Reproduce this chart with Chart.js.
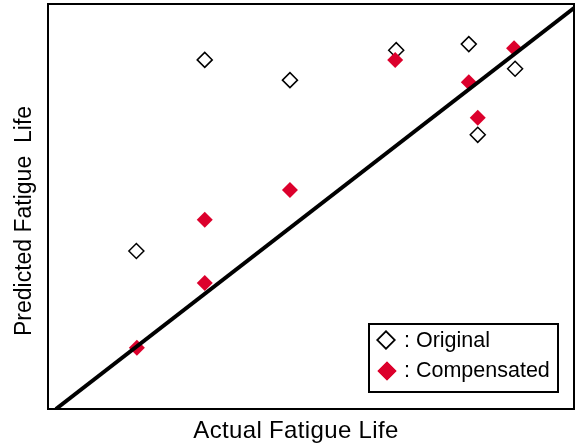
<!DOCTYPE html>
<html>
<head>
<meta charset="utf-8">
<script src="https://cdn.jsdelivr.net/npm/chart.js@4/dist/chart.umd.min.js"></script>
<style>
    html, body { margin: 0; padding: 0; background: #ffffff; }
    #wrap { width: 578px; height: 446px; }
</style>
</head>
<body>
<div id="wrap"><canvas id="chart" width="578" height="446"></canvas></div>
<script>
// Fatigue life, arbitrary units (both axes share the same 0..100 range)
const actualLife = [16.8, 29.8, 46.0, 66.2, 80.0, 88.8, 81.7];
const originalPredicted = [39.0, 86.2, 81.2, 88.6, 90.1, 84.0, 67.7];

const compActualLife = [16.9, 29.8, 29.8, 46.0, 66.0, 80.0, 81.7, 88.6];
const compensatedPredicted = [15.1, 31.1, 46.7, 54.1, 86.2, 80.7, 71.9, 89.1];

// 1:1 reference line
const idealActual = [1.5, 100];
const idealPredicted = [0, 99];

const RED = '#dc002c';
const FONT = '"Liberation Sans", Arial, sans-serif';

function toPoints(xs, ys) {
    return xs.map((x, i) => ({ x: x, y: ys[i] }));
}

// Frame, axis titles and the boxed legend
const framePlugin = {
    id: 'frame',
    afterDraw(chart) {
        const { ctx, chartArea: a } = chart;
        ctx.save();

        ctx.strokeStyle = '#000';
        ctx.lineWidth = 2;
        ctx.strokeRect(a.left, a.top, a.right - a.left, a.bottom - a.top);

        ctx.fillStyle = '#000';
        ctx.textAlign = 'center';
        ctx.textBaseline = 'alphabetic';
        ctx.font = '24px ' + FONT;
        ctx.letterSpacing = '0.35px';
        ctx.fillText('Actual Fatigue Life', 296, 438);

        ctx.letterSpacing = '0px';
        ctx.font = '23px ' + FONT;
        ctx.save();
        ctx.translate(31, 221);
        ctx.rotate(-Math.PI / 2);
        ctx.fillText('Predicted Fatigue  Life', 0, 0);
        ctx.restore();

        // legend box
        ctx.lineWidth = 2;
        ctx.strokeRect(369, 324, 189, 68);

        Chart.helpers.drawPoint(ctx, {
            pointStyle: 'rectRot', radius: 8.5, borderWidth: 1.5
        }, 386, 340);
        ctx.fillStyle = '#fff';
        ctx.fill();
        ctx.strokeStyle = '#000';
        ctx.lineWidth = 1.5;
        ctx.stroke();

        ctx.fillStyle = RED;
        Chart.helpers.drawPoint(ctx, {
            pointStyle: 'rectRot', radius: 9.5, borderWidth: 0
        }, 387, 371);
        ctx.fill();

        ctx.fillStyle = '#000';
        ctx.font = '21.5px ' + FONT;
        ctx.textAlign = 'left';
        ctx.textBaseline = 'middle';
        ctx.fillText(': Original', 404, 341);
        ctx.fillText(': Compensated', 404, 371);

        ctx.restore();
    }
};

new Chart(document.getElementById('chart'), {
    type: 'scatter',
    data: {
        datasets: [
            {
                label: 'Ideal',
                type: 'line',
                data: toPoints(idealActual, idealPredicted),
                borderColor: '#000',
                borderWidth: 4,
                pointRadius: 0,
                fill: false,
                order: 0
            },
            {
                label: 'Compensated',
                data: toPoints(compActualLife, compensatedPredicted),
                pointStyle: 'rectRot',
                pointRadius: 8,
                backgroundColor: RED,
                borderColor: RED,
                borderWidth: 0,
                order: 1
            },
            {
                label: 'Original',
                data: toPoints(actualLife, originalPredicted),
                pointStyle: 'rectRot',
                pointRadius: 7.5,
                backgroundColor: '#fff',
                borderColor: '#000',
                borderWidth: 1.5,
                order: 2
            }
        ]
    },
    options: {
        responsive: false,
        animation: false,
        layout: {
            autoPadding: false,
            padding: { left: 48, top: 4, right: 4, bottom: 37 }
        },
        plugins: {
            legend: { display: false },
            tooltip: { enabled: false }
        },
        scales: {
            x: { type: 'linear', min: 0, max: 100, display: false },
            y: { type: 'linear', min: 0, max: 100, display: false }
        }
    },
    plugins: [framePlugin]
});
</script>
</body>
</html>
